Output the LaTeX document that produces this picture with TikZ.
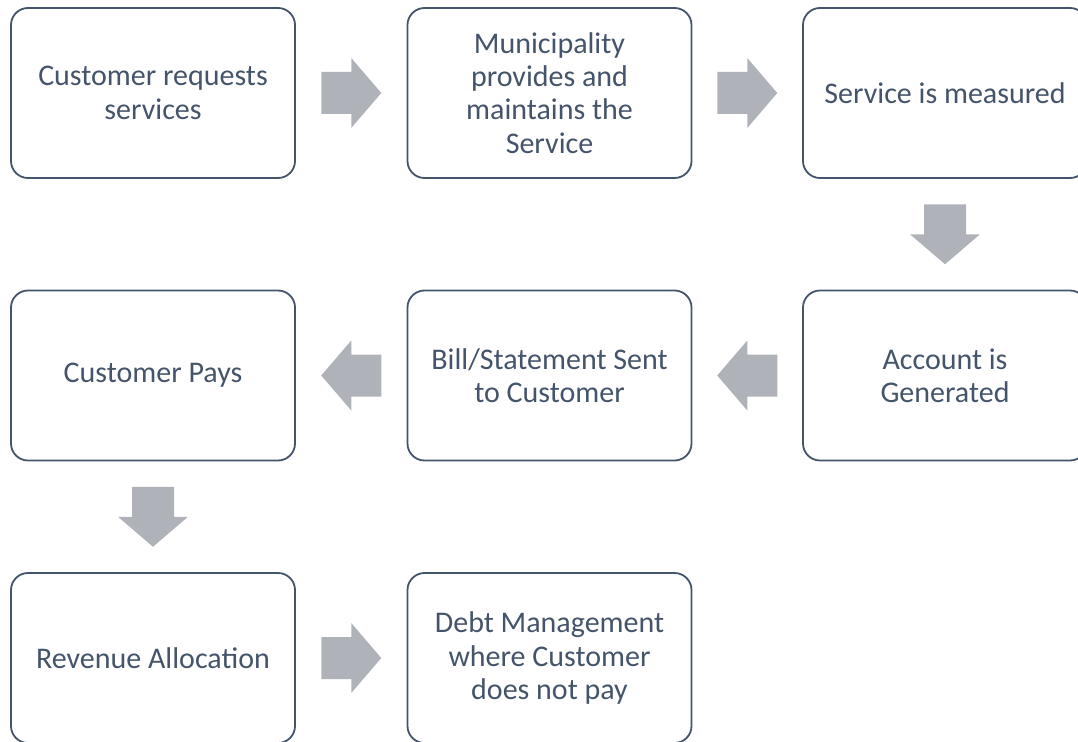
\documentclass[tikz,border=0pt]{standalone}
\usepackage{fontspec}
\setmainfont{Carlito}
\usetikzlibrary{calc}
\definecolor{boxline}{RGB}{68,84,106}
\definecolor{arrowfill}{RGB}{175,178,185}
\begin{document}
\begin{tikzpicture}[x=1pt,y=-1pt,
  stepbox/.style={draw=boxline, line width=1.8pt, rounded corners=17pt,
    minimum width=284pt, minimum height=170pt, inner sep=0pt,
    align=center, text=boxline, font=\fontsize{30}{33.3}\selectfont},
  flowarr/.pic={\fill[arrowfill] (-30,-21) -- (0,-21) -- (0,-35) -- (30,0)
    -- (0,35) -- (0,21) -- (-30,21) -- cycle;}]
\useasboundingbox (0,0) rectangle (1078,741);
\clip (0,0) rectangle (1078,741);
\node[stepbox] (b1) at (153,93) {Customer requests\\services};
\node[stepbox] (b2) at (549.5,93) {Municipality\\provides and\\maintains the\\Service};
\node[stepbox] (b3) at (945,93) {Service is measured};
\node[stepbox] (b4) at (945,375.5) {Account is\\Generated};
\node[stepbox] (b5) at (549.5,375.5) {Bill/Statement Sent\\to Customer};
\node[stepbox] (b6) at (153,375.5) {Customer Pays};
\node[stepbox] (b7) at (153,658) {Revenue Allocation};
\node[stepbox] (b8) at (549.5,658) {Debt Management\\where Customer\\does not pay};
\coordinate (a12) at ($(b1.east)!0.5!(b2.west)$);
\coordinate (a23) at ($(b2.east)!0.5!(b3.west)$);
\coordinate (a34) at ($(b3.south)!0.5!(b4.north)$);
\coordinate (a45) at ($(b4.west)!0.5!(b5.east)$);
\coordinate (a56) at ($(b5.west)!0.5!(b6.east)$);
\coordinate (a67) at ($(b6.south)!0.5!(b7.north)$);
\coordinate (a78) at ($(b7.east)!0.5!(b8.west)$);
\pic at (a12) {flowarr};
\pic at (a23) {flowarr};
\pic[rotate=-90] at (a34) {flowarr};
\pic[rotate=180] at (a45) {flowarr};
\pic[rotate=180] at (a56) {flowarr};
\pic[rotate=-90] at (a67) {flowarr};
\pic at (a78) {flowarr};
\end{tikzpicture}
\end{document}
